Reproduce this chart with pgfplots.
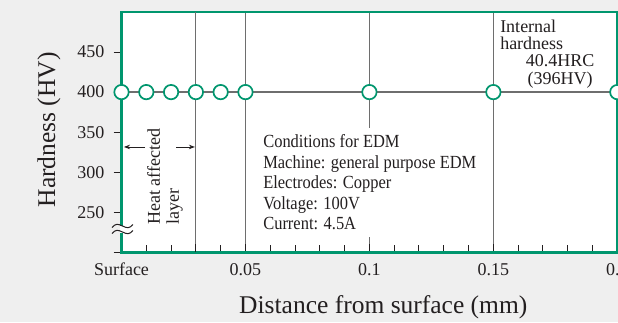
\documentclass[border=0pt]{standalone}
\usepackage{pgfplots}
\pgfplotsset{compat=1.18}
\usepackage{fontspec}
\setmainfont{Liberation Serif}
\newfontfamily\condfont{Liberation Serif}[FakeStretch=0.89]
\usetikzlibrary{arrows.meta}
\definecolor{edmgreen}{HTML}{00966E}
\definecolor{gridgray}{HTML}{6E6E6E}
\definecolor{bgcol}{HTML}{EFEFEF}
\definecolor{txt}{HTML}{231F20}
\begin{document}
\begin{tikzpicture}[x=1bp,y=1bp]
\fill[bgcol] (0,0) rectangle (618,322);
\begin{axis}[
  at={(121.5bp,69.7bp)}, anchor=south west,
  scale only axis, width=495.8bp, height=240.3bp,
  xmin=0, xmax=0.2, ymin=200, ymax=500,
  clip=false,
  axis background/.style={fill=white},
  axis line style={draw=edmgreen, line width=2.5bp},
  tick pos=left, tick align=inside,
  xtick={0,0.05,0.1,0.15,0.2},
  xticklabels={Surface,0.05,0.1,0.15,0.2},
  minor x tick num=4,
  extra x ticks={0.03}, extra x tick labels={},
  extra x tick style={grid=major},
  xmajorgrids,
  major grid style={draw=gridgray, line width=1.2bp},
  ytick={200,250,300,350,400,450},
  yticklabels={,250,300,350,400,450},
  major tick length=8bp, minor tick length=7bp,
  every tick/.style={draw=txt, line width=1bp},
  ytick style={xshift=-8bp},
  /pgf/number format/assume math mode=true,
  ticklabel style={font=\fontsize{18bp}{18bp}\selectfont, text=txt},
  yticklabel style={inner sep=0pt, xshift=-17bp},
  xticklabel style={inner sep=0pt, text height=12.2bp, yshift=-11bp},
  xlabel={Distance from surface (mm)},
  ylabel={Hardness (HV)},
  label style={font=\fontsize{25.5bp}{25.5bp}\selectfont, text=txt},
  xlabel style={at={(axis description cs:0.528,-0.2526)}, anchor=base, inner sep=0pt},
  ylabel style={at={(axis description cs:-0.1341,0.51)}, anchor=base, inner sep=0pt},
]
\node[anchor=north west, fill=white, inner xsep=5bp, inner ysep=7bp, align=left,
      font=\condfont\fontsize{18.5bp}{20.5bp}\selectfont, text=txt]
  at (axis cs:0.0551,356.0)
  {Conditions for EDM\\Machine: general purpose EDM\\Electrodes: Copper\\Voltage: 100V\\Current: 4.5A};
\addplot[draw=gridgray, line width=1.3bp, mark=*, mark size=7.2bp,
  mark options={fill=white, draw=edmgreen, line width=1.7bp}]
  coordinates {(0,400) (0.01,400) (0.02,400) (0.03,400) (0.04,400) (0.05,400) (0.1,400) (0.15,400) (0.2,400)};
\draw[-{Stealth[length=6bp,width=4.5bp]}, line width=0.8bp, txt] (axis cs:0.0095,331.5) -- (axis cs:0.0010,331.5);
\draw[-{Stealth[length=6bp,width=4.5bp]}, line width=0.8bp, txt] (axis cs:0.0220,331.5) -- (axis cs:0.0296,331.5);
\node[rotate=90, anchor=west, align=left, inner sep=0pt,
      font=\fontsize{18bp}{19bp}\selectfont, text=txt]
  at (axis cs:0.0175,234.1) {Heat affected\\layer};
\node[anchor=base west, inner sep=0pt, font=\fontsize{18bp}{18bp}\selectfont, text=txt] at (axis cs:0.1527,474.7) {Internal};
\node[anchor=base west, inner sep=0pt, font=\fontsize{18bp}{18bp}\selectfont, text=txt] at (axis cs:0.1527,452.6) {hardness};
\node[anchor=base, inner sep=0pt, font=\fontsize{18bp}{18bp}\selectfont, text=txt] at (axis cs:0.1769,431.4) {40.4HRC};
\node[anchor=base, inner sep=0pt, font=\fontsize{18bp}{18bp}\selectfont, text=txt] at (axis cs:0.1769,409.0) {(396HV)};
\end{axis}
\fill[white] (119.5,89.5) rectangle (123.5,96.5);
\draw[txt, line width=1bp] (112,94.5) .. controls (116,99) and (118,98) .. (122.5,96) .. controls (127,94) and (129,93) .. (133,97.5);
\draw[txt, line width=1bp] (112,88.5) .. controls (116,93) and (118,92) .. (122.5,90) .. controls (127,88) and (129,87) .. (133,91.5);
\pgfresetboundingbox
\path[use as bounding box] (0,0) rectangle (618,322);
\end{tikzpicture}
\end{document}
